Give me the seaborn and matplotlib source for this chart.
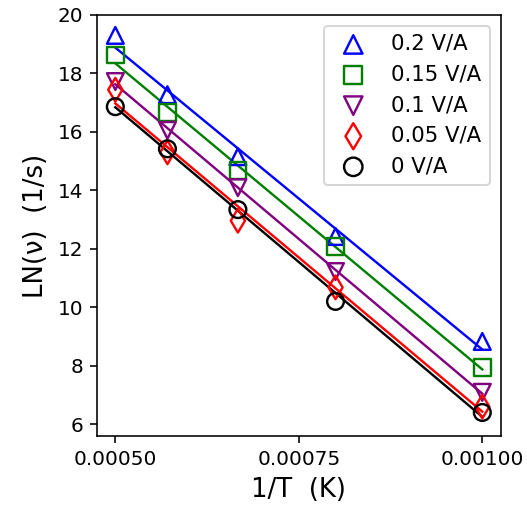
import numpy as np
import pandas as pd
import matplotlib
matplotlib.use("Agg")
import matplotlib.pyplot as plt
from matplotlib.ticker import FormatStrFormatter
import seaborn as sns

inv_T = [0.0005, 0.000571, 0.000667, 0.0008, 0.001]
labels = ["0.2 V/A", "0.15 V/A", "0.1 V/A", "0.05 V/A", "0 V/A"]
v_02 = [19.3, 17.27, 15.15, 12.42, 8.83]
v_015 = [18.63, 16.65, 14.67, 12.08, 7.95]
v_01 = [17.72, 16.05, 14.09, 11.22, 7.09]
v_005 = [17.44, 15.3, 12.96, 10.68, 6.6]
v_0 = [16.86, 15.42, 13.34, 10.2, 6.4]
series = [v_02, v_015, v_01, v_005, v_0]
colors = ["blue", "green", "purple", "red", "black"]
markers = ["^", "s", "v", "d", "o"]

fig = plt.figure(figsize=(527/144, 514/144), dpi=144)
ax = fig.add_axes([0.184, 0.152, 0.766, 0.819])

for lab, vals, c, m in zip(labels, series, colors, markers):
    df = pd.DataFrame({"x": inv_T, "y": vals})
    sns.scatterplot(data=df, x="x", y="y", ax=ax, marker=m, color=c,
                    facecolors="none", edgecolor=c, s=70, linewidth=1.2,
                    label=lab, zorder=3)
    sns.regplot(data=df, x="x", y="y", ax=ax, scatter=False, ci=None,
                color=c, line_kws=dict(lw=1.2), truncate=True)

ax.set_xlim(0.000475, 0.001025)
ax.set_ylim(5.6, 20)
ax.set_xticks([0.0005, 0.00075, 0.001])
ax.xaxis.set_major_formatter(FormatStrFormatter("%.5f"))
ax.set_yticks([6, 8, 10, 12, 14, 16, 18, 20])
ax.set_xlabel("1/T  (K)", fontsize=13)
ax.set_ylabel("LN(\u03bd)  (1/s)", fontsize=13)
ax.legend(loc="upper right", fontsize=10.6, markerscale=1.1)

fig.savefig("out.png", dpi=144)
